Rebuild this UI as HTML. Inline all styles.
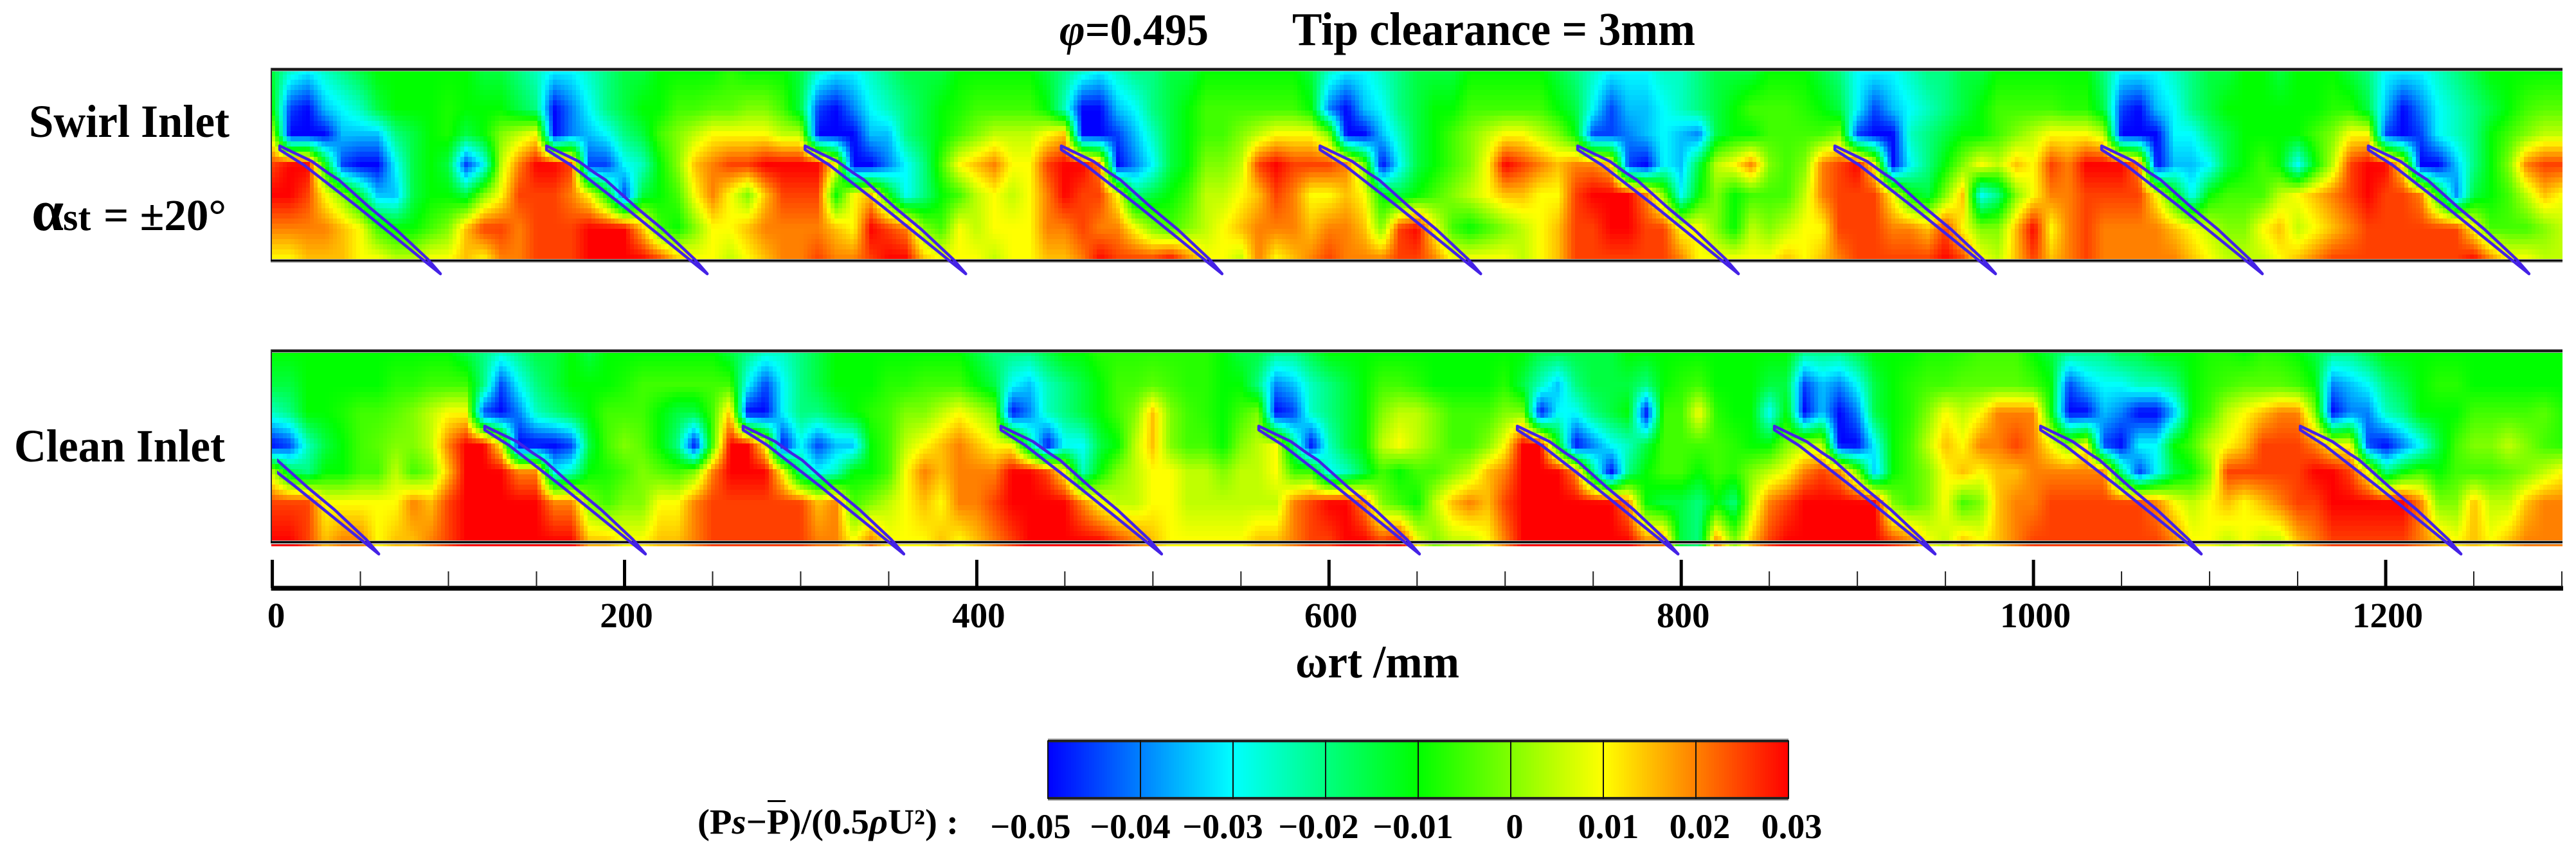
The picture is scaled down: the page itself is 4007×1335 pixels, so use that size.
<!DOCTYPE html>
<html lang="en">
<head>
<meta charset="utf-8">
<title>Static pressure contour, swirl and clean inlet</title>
<style>
html,body{margin:0;padding:0;background:#fff;width:4007px;height:1335px;overflow:hidden}
svg{display:block;position:absolute;left:0;top:0}
text{font-family:"Liberation Serif",serif;font-weight:bold;fill:#000}
</style>
</head>
<body>
<svg id="chart" width="4007" height="1335" viewBox="0 0 4007 1335" xmlns="http://www.w3.org/2000/svg">
<defs>
<clipPath id="clip-clean"><rect x="431" y="500" width="3556" height="400"/></clipPath>
<clipPath id="clip-swirl"><rect x="422" y="60" width="3565" height="400"/></clipPath>
</defs>
<g id="swirl-cells"></g>
<g id="clean-cells"></g>
<g id="frames"></g>
<g id="blades"></g>
<g id="axis"></g>
<g id="colorbar"></g>

<text x="1648" y="70" font-size="70" textLength="232" lengthAdjust="spacingAndGlyphs"><tspan font-style="italic">φ</tspan>=0.495</text>
<text x="2010" y="70" font-size="73" textLength="627" lengthAdjust="spacingAndGlyphs">Tip clearance = 3mm</text>
<text x="45" y="213" font-size="72" textLength="312" lengthAdjust="spacingAndGlyphs">Swirl Inlet</text>
<text x="49" y="358" font-size="69"><tspan font-size="90">α</tspan><tspan x="98" font-size="60">st</tspan><tspan x="161">= ±20°</tspan></text>
<text x="22" y="718" font-size="72" textLength="328" lengthAdjust="spacingAndGlyphs">Clean Inlet</text>
<text x="2015" y="1054" font-size="72" textLength="255" lengthAdjust="spacingAndGlyphs">ωrt /mm</text>
<text x="1085" y="1297" font-size="55" textLength="406" lengthAdjust="spacingAndGlyphs">(P<tspan font-style="italic">s</tspan>−P)/(0.5<tspan font-style="italic">ρ</tspan>U²) :</text>
<rect x="1194" y="1245" width="28" height="3" fill="#000"></rect>
</svg>
<script>
// Field values in hundredths of (Ps-Pbar)/(0.5 rho U^2), one entry per 10 mm of wrt.
const swirlR0 = [-1.5,-2.5,-3,-2.5,-2,-1.5,-1,-1,-1,-1,-1,-1,-1.5,-1.5,-2,-2.5,-3,-3,-2.5,-2,-1.5,-1.5,-1,-1,-1,-1,-.7,-1,-1,-1,-1.5,-2.5,-3,-3,-2.5,-2,
-1.5,-1.5,-1.5,-1,-1,-1,-1,-1,-1.5,-2,-2.5,-3,-2.5,-2,-2,-1.5,-1.5,-1,-1,-1,-1,-1,-1,-1.5,-2.5,-3,-3,-2.5,-2,-1.5,-1.5,-1.5,-1,-1,-1,-1,-1,-1.5,-2,-2.5,-3,-3,-3,-2.5,-2.5,-2,-1.5,
-1.5,-1.5,-1,-1,-1,-1.5,-2,-3,-3,-3,-2.5,-2,-2,-1.5,-1.5,-1,-1,-1,-1,-1,-1,-2,-3,-3,-3,-2.5,-2,-1.5,-1.5,-1,-1,-1.5,-1,-1,-1,-1.5,-2,-3,-3,-3,-2.5,-2,-1.5,-1,-1,-1,-1,-1];
const swirlR1 = [-1,-4.5,-5,-3.5,-3,-2.5,-1.5,-1,-1,-1,-.8,-1,-1,-1,-1.5,-2,-5,-4,-3,-2,-1.5,-1,-1,-.5,-.5,-.3,-.3,0,0,-.5,-1.5,-4.5,-5,-4,-3,-2.5,
-2,-1.5,-1,-.8,-.5,-.5,-.5,-.5,-1,-2.5,-5,-5,-3.5,-3,-2,-1.5,-1,-.5,-.5,-.5,-.5,-.5,-.5,-1,-4,-5,-3.5,-3,-2,-1.5,-1,-1,-.5,-.5,-.5,-.5,-.5,-1,-1.5,-3,-4.5,-3.5,-3.5,-3,-2.5,-2,-1.5,
-1,-.5,-.5,-.5,-.7,-1,-1.5,-3,-4.5,-3.5,-3,-2.5,-2,-1.5,-1,-.5,-.5,-.5,-.5,-.7,-.7,-1.5,-4.5,-5,-3.5,-3,-2,-1.5,-1,-1,-1,-1,-1,-1,-.7,-.7,-1.5,-3.5,-5,-4,-3,-2.5,-2,-1.5,-1,-.5,-.3,-.3];
const swirlR2 = [.5,-5,-5,-5,-3.5,-3.5,-3.5,-2,-1.5,-1,-.8,-1.5,-1,0,.5,1,-5,-4,-3.5,-3,-2,-1.5,-.5,0,.5,1,1,1,1,.5,.5,-5,-5,-5,-3.5,-3.5,
-2,-1.5,-1,-.5,0,.5,.5,.5,1,1.5,-5,-5,-4.5,-3.5,-2.5,-1.5,-1,-.5,-.5,0,.5,1,1,1,0,-5,-5,-3.5,-2.5,-1.5,-1,-.5,0,.5,1,1,.5,0,-1,-4.5,-4.5,-4,-3.5,-3,-3.5,-4,-1.5,
-1,-1,-.5,-.5,-.5,-.5,0,-4.5,-5,-5,-2.5,-2,-1.5,-1,-1,-.5,0,.5,1,1,1,.5,-5,-5,-5,-3,-3,-2,-1.5,-1,-1,-1,-1,-.5,0,1,1,-4.5,-5,-4.5,-3,-2.5,-2,-1,-.5,0,.5,.5];
const swirlR3 = [2.5,3,3,-1,-4.5,-5,-5,-3,-1.5,-1,-1.5,-4.5,-3,.5,2,3,3,2.5,-4.5,-4.5,-3,-2.5,-1,0,1.5,2,2.5,2.5,3,3,3,3,1,-5,-5,-4,
-3,-2,-.5,1,1.5,2,1,1,2.5,3,3,2,-5,-4,-3,-1.5,-1,0,0,.5,2.5,3,2.5,2.5,2.5,2,0,-5,-3,-1.5,-1,-.5,0,1,3,2.5,2,1.5,2,2,1.5,-4.5,-5,-3,-3.5,-1.5,.5,
1,2,0,-.5,0,2,2.5,3,1,-5,-3,-2,-1,0,1,.5,1.5,1,2.5,2,3,3,3,2,-5,-3.5,-3.5,-3,-1.5,-1,-.5,-1,-3,-1,.5,2.5,3,3,1,-5,-5,-3.5,-2,-1,0,2,2.5,2.5];
const swirlR4 = [3,3,2.5,1,0,-1.5,-3.5,-3.5,-1.5,-1,-1,-1.5,0,1,2.5,2.5,2.5,2,1,-1,-4.5,-1.5,-1,-.5,1,2,1,0,1.5,2.5,2.5,2.5,-1,1,1.5,-1,
-3,-2,-1,-.5,.5,1,.5,1,2,3,2.5,2.5,1,-2,-1.5,-1,-.5,.5,.5,1,1.5,2.5,2,1,1,1.5,1,-1,-1.5,-1,-.5,0,.5,1,1.5,1.5,1,1,2.5,3,3,3,2,0,-3,-1,0,
-1,-.5,-.5,-.5,.5,2,2.5,2.5,2.5,1,-1,-1.5,0,1.5,-3,-2,0,1,2,2,2.5,2.5,2.5,2.5,1,-1,-3,-1,-.5,-.5,-.5,.5,1,1.5,2,2.5,3,2.5,2.5,2,-1,-4,-1.5,-1,-.5,.5,1.5,1];
const swirlR5 = [2,2,2,2,1.5,1,-.5,-1,-1,-.5,0,1.5,2.5,2.5,2,2.5,2.5,2.5,3,3,3,1.5,-.5,-1,0,1,1,1.5,2,2,2,2,1.5,1,3,2.5,
2,0,-.5,1,.5,1,1,1,2,2,2.5,2,2,1,0,-.5,0,.5,1,1.5,2,2,2,1.5,2,2,1.5,0,2.5,3,1,-.5,-1,-.5,0,.5,1,1.5,2.5,2.5,3,3,2.5,2.5,1,1,0,
-1,.5,0,.5,1,1,2.5,2.5,2.5,2,2,1.5,2.5,1,0,0,1.5,3,1,2,2.5,2,2,2,2,1.5,1,.5,0,0,1,1.5,.5,1,1.5,2,2.5,2.5,2.5,2.5,2.5,2.5,1,-.5,-.5,-.5,0,.5];
const swirlR6 = [1,1,1.5,1.5,1.5,1,1,.5,.5,1,1,1.5,1,2,2,2.5,2.5,2.5,3,3,3,3,2.5,1.5,1,1,.5,1,1.5,2,2,2.5,2,2,2.5,3,
3,1.5,1,1,1,.5,1,1,1.5,1.5,2,3,2.5,2.5,2.5,3,2,1,1,.5,2,1,1.5,2,2.5,2,2,2,2.5,2.5,2,1,1,1,1,.5,1,1.5,2.5,2.5,2.5,2.5,2.5,2.5,2,1,1,
1,1,1,1.5,1,1.5,2,2.5,2.5,2.5,2.5,2.5,3,2.5,1,.5,1.5,2.5,1.5,2,2.5,2,2,2,2,2,1.5,1,.5,.5,.5,1,1.5,2,2.5,2.5,2.5,2.5,2.5,2.5,2.5,2.5,3,2,1,1,.5,.5];

const cleanR0 = [-1,-1,-1,-1,-1,-1,-1,-1,-1,-1,-1,-1.5,-2,-2.5,-2,-1.5,-1.5,-1,-1.5,-1,-1,-1,-1,-1,-1,-1,-1.5,-2,-2.5,-2.5,-2,-1.5,-1,-1,-1,-1,
-1,-1,-1,-1,-1.5,-2,-2,-2,-1.5,-1,-1,-.7,-.7,-.7,-.7,-.7,-.7,-.7,-1,-1.5,-1.5,-2,-2,-1.5,-1,-1,-1,-1,-1,-1,-1,-1,-1,-1,-1,-1,-1.5,-1.5,-1.5,-1.5,-1.5,-1,-1,-1,-1,-1,-1,-1,
-1,-1,-1,-2,-2,-2,-1.5,-1,-1,-1,-.8,-.8,-.7,-.5,-.5,-.5,-1,-1.5,-2,-2,-2,-1.5,-1.5,-1,-1,-1,-.8,-.8,-1,-.7,-.8,-1,-1.5,-2,-2,-1.5,-1,-1,-1,-1,-1,-1,-1,-1,-1,-1,-1];
const cleanR1 = [-1.5,-1.5,-1,-1,-1,-1,-1,-.7,-.7,-.5,-.5,-.5,-2,-4.5,-3,-2,-1.5,-1,-1,-1,-.8,-.5,-.5,-.5,-.5,-.5,-.5,-3,-4.5,-3,-2,-1.5,-1,-1,-1,-.7,
-.7,-.5,-.5,-.5,-1,-1.5,-3,-3.5,-2.5,-2,-1.5,-1,-.5,-.5,-.3,-.5,-.7,-.7,-1,-1,-2,-4,-3.5,-2.5,-2,-1.5,-1,-.5,-.5,-.7,-1,-1,-1,-1,-.7,-1.5,-2.5,-3.5,-2,-1.5,-1.5,-1.5,-2,-1,-.7,-.5,-1,-1,
-1,-1.5,-1.5,-4.5,-3.5,-4,-3,-1.5,-1,-.7,-.5,-.5,-.3,-.3,-.3,-.3,-.5,-1,-4.5,-3.5,-3,-3,-2.5,-2.5,-2,-1,-.7,-.5,-.3,-.3,-.3,-.5,-1,-4,-3.5,-3,-2,-1.5,-1,-.7,-.7,-1,-1,-1,-1,-1,-1];
const cleanR2 = [-2.5,-2,-1,-1,-.8,-.5,-.5,-.3,0,.5,1,1,-4.5,-5,-4,-2.5,-2,-1.5,-1,-.5,-.5,-.5,-1,-1.5,-1.5,-.5,1.5,-5,-5,-3,-2,-2,-1.5,-1,-.7,-.5,
0,0,.5,1,.5,0,-5,-4,-2.5,-2,-1.5,-1,-.5,0,1.5,0,-.5,-.7,-1,-.5,0,-5,-4.5,-2.5,-2,-1.5,-1,0,.5,.5,0,-.5,-.5,-.5,0,0,-5,-3,-3,-2,-1.5,-1,-5,-.5,-.5,1,-.7,-1,
-1,-3,-1,-5,-3.5,-5,-4,-1.5,-1,-.7,0,1,.5,1,2,2,2,-1,-5,-5,-3.5,-4,-5,-5,-3.5,-1,-.5,.5,1,1.5,2,2,0,-5,-4,-4,-2.5,-2,-1,-1,-1,-.5,-.5,-.5,-.5,-.3,-.7];
const cleanR3 = [-5,-4.5,-2.5,-1.5,-1,-.5,-.3,0,0,.5,2,3,3,1,-5,-5,-5,-4.5,-1.5,-.5,0,-.3,-1,-2,-5,-.5,3,3,1,-5,-3,-4.5,-3.5,-3.5,-1,-.5,
.5,1,1.5,2,1.5,1,1,-2,-5,-3,-3,-1.5,-1,.5,1.5,0,-.5,-.5,-1,0,.5,1,-2,-5,-2.5,-1.5,-1,.5,1,.5,0,-.5,-.5,0,1,3,3,-1,-5,-4,-3,-2.5,-1.5,-.5,-.5,-.5,-.5,-.7,
-1,-1,0,.5,.5,-5,-5,-3,-1,-.5,.5,1.5,1,2,2,2.5,2,1,0,1,-4.5,-5,-3,-3,-1,-.5,.5,1,1.5,2.5,2.5,2.5,2,1,1,-4.5,-5,-4,-3,-1.5,-.5,0,0,.5,0,-.5,-.7];
const cleanR4 = [.5,-1.5,-2,-1,-1,-.5,-.5,.5,-.5,0,1.5,3,3,3,2,2,-3,-2.5,-1,-.8,-.5,0,-.3,-.5,0,2,3,3,3,1,-2,-3,-2.5,-1,-1,-.5,
1,2,1.5,2,2,2,3,3,2.5,1,-2.5,-1,0,.5,1,1,.5,.5,0,.5,.5,1,-.5,-.5,-3,-2.5,-1.5,-.5,-1,-.5,-.5,0,.5,1.5,2,3,3,3,2,-2,-5,-2,-1,-.5,-.5,-1,-.5,-.7,
0,.5,1,2,2.5,2,0,-3.5,-1,-.5,0,1,1.5,1,1.5,1.5,2,2,2,2,2,-2,-4.5,-3,-1.5,-1,0,2.5,2.5,2.5,2.5,2.5,3,3,2.5,1,-2,-1,-.5,-1,-.5,-.5,-.5,-.3,0,.5,1];
const cleanR5 = [2.5,2.5,2.5,1,1,1,1,1,2,1.5,2.5,3,3,3,3,3,2,2,0,-.5,0,0,1,1,2,2.5,2.5,2.5,2.5,2.5,2.5,1.5,2,-.5,0,.5,
1,1.5,1,2,2,2.5,3,3,3,3,2,1,.5,.5,1,1,.5,.5,.5,.5,.5,.5,2,2.5,3,3,2,0,-.5,-1,.5,1.5,2,1.5,2.5,3,3,3,3,3,3,2,-1,-1.5,-1.5,-2,-1,-2,
.5,2,2.5,3,3,3,3,3,0,-.5,0,1,-.5,0,1.5,2,2,2.5,2.5,2.5,2.5,2.5,2.5,2,1,.5,1,1.5,1,1.5,2,2.5,2.5,3,3,3,3,3,2,0,0,1.5,.5,.5,1.5,2,2];
const cleanR6 = [3,3,2.5,1.5,2,2,1,1.5,1.5,2,2.5,3,3,3,3,3,3,3,1.5,1.5,1,1,1.5,1.5,2,2.5,2.5,2.5,2.5,2.5,2.5,2,2,1,2,1,
1,1,1.5,1,1.5,2,2.5,3,3,3,3,3,2.5,2,1.5,1,1,1,1,1,1.5,1.5,2,2.5,2.5,3,3,2.5,3,1,0,.5,.5,1,2,3,3,3,3,3,3,3,2,2,-1.5,-2,2,0,
1.5,2.5,3,3,3,3,3,3,2.5,2,1,.5,1.5,1,1.5,2,2.5,2.5,2.5,2.5,2.5,2.5,2.5,2.5,2,1,1,.5,1,.5,.5,1.5,2,2.5,2.5,2.5,2.5,2.5,2,1.5,1,1.5,1,1.5,2,2,2];

const swirlRows = [swirlR0, swirlR1, swirlR2, swirlR3, swirlR4, swirlR5, swirlR6];
const cleanRows = [cleanR0, cleanR1, cleanR2, cleanR3, cleanR4, cleanR5, cleanR6];
// Normalised heights of the measurement rows (1 = top of panel, 0 = bottom).
const swirlSpan = [1, .79, .659, .498, .341, .164, 0];
const cleanSpan = [1, .82, .676, .507, .365, .203, 0];
// Leading-edge stations of the blades, in mm of wrt.
const swirlBlades = [4.2, 155.7, 302.5, 448, 594.9, 741.2, 887.2, 1038.7, 1190.1];
const cleanBlades = [-30.8, 120.6, 267.3, 413.7, 560.1, 706.9, 852.9, 1004, 1151.5];
// Tick labels.
const majorTicks = [0, 200, 400, 600, 800, 1000, 1200];
const minorTicks = [50, 100, 150, 250, 300, 350, 450, 500, 550, 650, 700, 750, 850, 900, 950, 1050, 1100, 1150, 1250, 1300];
const colorbarTicks = [-0.05, -0.04, -0.03, -0.02, -0.01, 0, 0.01, 0.02, 0.03];
const colorbarLabels = ['−0.05', '−0.04', '−0.03', '−0.02', '−0.01', '0', '0.01', '0.02', '0.03'];
const colorStops = [[0,0,255],[0,128,255],[0,255,255],[0,255,128],[0,255,0],[128,255,0],[255,255,0],[255,128,0],[255,0,0]];

const NS = 'http://www.w3.org/2000/svg';
const columnStep = 10;
const AX0 = 423.6, AXK = 2.7395;
function xScale(u) { return AX0 + AXK * u; }
function xInvert(px) { return (px - AX0) / AXK; }
function colorOf(hundredths) {
  const t = Math.max(0, Math.min(8, hundredths + 5));
  const i = Math.min(7, Math.floor(t));
  const f = t - i;
  const a = colorStops[i], b = colorStops[i + 1];
  return 'rgb(' + Math.round(a[0] + (b[0] - a[0]) * f) + ',' + Math.round(a[1] + (b[1] - a[1]) * f) + ',' + Math.round(a[2] + (b[2] - a[2]) * f) + ')';
}
function sample(rows, span, u, s) {
  const nCols = rows[0].length;
  const c = Math.max(0, Math.min(nCols - 1.001, u / columnStep));
  const ci = Math.floor(c), cf = c - ci;
  let r = 0;
  while (r < span.length - 2 && s < span[r + 1]) r++;
  const rf = (span[r] - s) / (span[r] - span[r + 1]);
  const top = rows[r][ci] * (1 - cf) + rows[r][ci + 1] * cf;
  const bot = rows[r + 1][ci] * (1 - cf) + rows[r + 1][ci + 1] * cf;
  return top * (1 - rf) + bot * rf;
}
function drawField(groupId, rows, span, yTop, yBottom) {
  const group = document.getElementById(groupId);
  const frag = document.createDocumentFragment();
  const cw = 6, ch = 8;
  for (let y = yTop; y < yBottom; y += ch) {
    const s = 1 - (y + ch / 2 - yTop) / (yBottom - yTop);
    for (let x = 422; x < 3986; x += cw) {
      const el = document.createElementNS(NS, 'rect');
      el.setAttribute('x', x);
      el.setAttribute('y', y);
      el.setAttribute('width', cw);
      el.setAttribute('height', ch);
      el.setAttribute('shape-rendering', 'crispEdges');
      el.setAttribute('fill', colorOf(sample(rows, span, xInvert(x + cw / 2), s)));
      
      
      frag.appendChild(el);
    }
  }
  group.appendChild(frag);
}
drawField('swirl-cells', swirlRows, swirlSpan, 108, 404);
drawField('clean-cells', cleanRows, cleanSpan, 546, 843);

function addRect(parent, x, y, w, h, fill, name) {
  const el = document.createElementNS(NS, 'rect');
  el.setAttribute('x', x);
  el.setAttribute('y', y);
  el.setAttribute('width', w);
  el.setAttribute('height', h);
  el.setAttribute('fill', fill);
  
  
  parent.appendChild(el);
  return el;
}
// Panel frames
const frames = document.getElementById('frames');
[[106, 404], [544, 842]].forEach(function (p) {
  addRect(frames, 421, p[0] - 1, 3565, 6, '#b0b0b0', 'panel-top-halo');
  addRect(frames, 421, p[0], 3565, 4, '#1c1c1c', 'panel-top-border');
  addRect(frames, 421, p[1] - 1, 3565, 6, '#b0b0b0', 'panel-bottom-halo');
  addRect(frames, 421, p[1], 3565, 3, '#0a0a0a', 'panel-bottom-border');
  addRect(frames, 421, p[0], 2, p[1] - p[0], '#333', 'panel-left-border');
});

// Blades: chord shape is relative to the leading edge, placed through the x scale.
const suctionShape = [[0,0],[25,12],[50,24],[75,42],[92,53],[140,96],[181,130],[230,176],[250,199]];
const pressureShape = [[0,6],[38,30],[119,93],[230,183],[250,199]];
function drawBlades(stations, yLe, clipId, label) {
  const g = document.getElementById('blades');
  stations.forEach(function (u) {
    const xLe = xScale(u);
    const pts = suctionShape.concat(pressureShape.slice().reverse());
    const d = pts.map(function (p, i) { return (i ? 'L' : 'M') + (xLe + p[0]).toFixed(1) + ' ' + (yLe + p[1]).toFixed(1); }).join(' ') + ' Z';
    const el = document.createElementNS(NS, 'path');
    el.setAttribute('d', d);
    el.setAttribute('fill', 'none');
    el.setAttribute('stroke', '#4422e6');
    el.setAttribute('stroke-width', '4.5');
    el.setAttribute('stroke-linejoin', 'round');
    el.setAttribute('clip-path', 'url(#' + clipId + ')');
    
    
    g.appendChild(el);
  });
}
drawBlades(swirlBlades, 227, 'clip-swirl', 'swirl-blade');
drawBlades(cleanBlades, 663, 'clip-clean', 'clean-blade');

// X axis
const axis = document.getElementById('axis');
addRect(axis, xScale(0) - 2, 911, xScale(1300) - xScale(0) + 4, 2, '#888', 'x-axis-halo');
addRect(axis, xScale(0) - 2, 912, xScale(1300) - xScale(0) + 4, 7, '#000', 'x-axis-line');
majorTicks.forEach(function (v) {
  addRect(axis, xScale(v) - 2.5, 871, 5, 44, '#000', 'x-major-tick');
  const t = document.createElementNS(NS, 'text');
  t.setAttribute('x', xScale(v) + (v === 0 ? 6 : 3));
  t.setAttribute('y', 976);
  t.setAttribute('font-size', '55');
  t.setAttribute('text-anchor', 'middle');
  
  
  t.textContent = String(v);
  axis.appendChild(t);
});
minorTicks.forEach(function (v) {
  addRect(axis, xScale(v) - 1, 889, 2, 24, '#222', 'x-minor-tick');
});

// Colorbar
const CB0 = 1630, CB1 = 2782;
function cbScale(v) { return CB0 + (v - colorbarTicks[0]) / (colorbarTicks[colorbarTicks.length - 1] - colorbarTicks[0]) * (CB1 - CB0); }
const cb = document.getElementById('colorbar');
const cbStep = 4;
for (let x = CB0; x < CB1; x += cbStep) {
  const v = colorbarTicks[0] + (x + cbStep / 2 - CB0) / (CB1 - CB0) * 0.08;
  const el = addRect(cb, x, 1152, cbStep, 91, colorOf(v * 100), 'colorbar-swatch');
  el.setAttribute('shape-rendering', 'crispEdges');
}
addRect(cb, CB0, 1149, CB1 - CB0, 6, '#b0b0b0', 'colorbar-top-halo');
addRect(cb, CB0, 1151, CB1 - CB0, 4, '#222', 'colorbar-top-border');
addRect(cb, CB0, 1240, CB1 - CB0, 6, '#b0b0b0', 'colorbar-bottom-halo');
addRect(cb, CB0, 1240, CB1 - CB0, 4, '#222', 'colorbar-bottom-border');
const labelNudge = [-27, -16, -16, -11, -8, 6, 8, 6, 5];
colorbarTicks.forEach(function (v, i) {
  addRect(cb, cbScale(v) - 1, 1152, 2, 91, '#111', 'colorbar-divider');
  const t = document.createElementNS(NS, 'text');
  t.setAttribute('x', cbScale(v) + labelNudge[i]);
  t.setAttribute('y', 1304);
  t.setAttribute('font-size', '54');
  t.setAttribute('text-anchor', 'middle');
  
  
  t.textContent = colorbarLabels[i];
  cb.appendChild(t);
});
</script>
</body>
</html>
